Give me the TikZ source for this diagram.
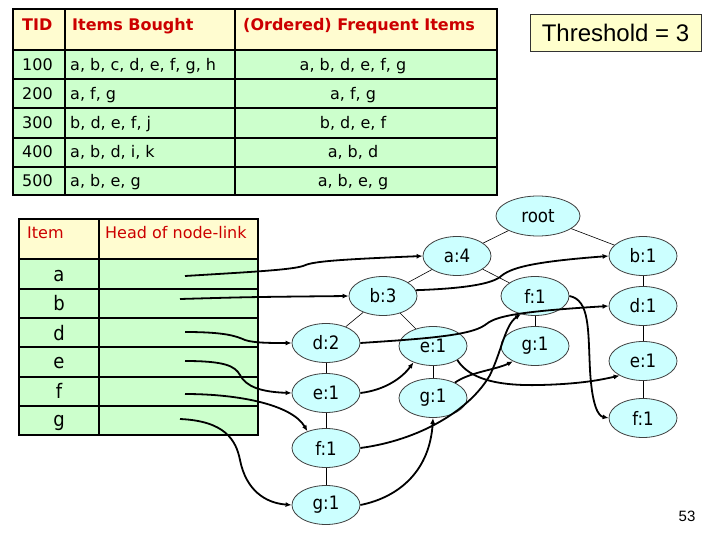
\documentclass[tikz,border=0pt]{standalone}
\usepackage{fontspec}
\setmainfont{DejaVu Sans}
\newfontfamily\arialfont{Liberation Sans}
\newfontfamily\condfont{DejaVu Sans Condensed}
\usetikzlibrary{arrows.meta,shapes.geometric}
\definecolor{hdrfill}{RGB}{255,252,208}
\definecolor{rowfill}{RGB}{204,255,204}
\definecolor{redtxt}{RGB}{204,0,0}
\definecolor{nodefill}{RGB}{204,255,255}
\definecolor{thrfill}{RGB}{255,255,204}
\begin{document}
\begin{tikzpicture}[x=1pt,y=-1pt,
  txt/.style={inner sep=0pt, anchor=base west, font=\fontsize{16}{19}\selectfont},
  ctxt/.style={inner sep=0pt, anchor=base, font=\fontsize{16}{19}\selectfont},
  itxt/.style={inner sep=0pt, anchor=base, font=\condfont\fontsize{20}{24}\selectfont},
  hbold/.style={txt, text=redtxt, font=\fontsize{16}{19}\selectfont\bfseries},
  hnorm/.style={txt, text=redtxt},
  tn/.style={ellipse, draw=black!75, line width=0.8pt, fill=nodefill, minimum width=68pt, minimum height=39pt, inner sep=0pt, font=\condfont\fontsize{18.5}{22}\selectfont},
  tedge/.style={line width=0.6pt},
  link/.style={line width=1.8pt, -{Latex[length=6pt,width=5pt]}},
  outer/.style={line width=2.5pt},
  inner/.style={line width=2pt}
]
\useasboundingbox (0,0) rectangle (720,540);
\fill[white] (0,0) rectangle (720,540);

% ---------- top table ----------
\fill[hdrfill] (13,9) rectangle (497,50);
\fill[rowfill] (13,50) rectangle (497,195);
\foreach \yy in {50,79,108,138,167} \draw[inner] (13,\yy) -- (497,\yy);
\foreach \xx in {65,235} \draw[inner] (\xx,9) -- (\xx,195);
\draw[outer] (13,9) rectangle (497,195);

\node[hbold] (tidh) at (22,31) {TID};
\node[hbold] (itemsh) at (72,31) {Items Bought};
\node[hbold] (freqh) at (243,31) {(Ordered) Frequent Items};

\node[txt] (t1) at (22,71) {100};
\node[txt] (t2) at (22,100) {200};
\node[txt] (t3) at (22,129) {300};
\node[txt] (t4) at (22,158) {400};
\node[txt] (t5) at (22,187) {500};
\node[txt] (i1) at (70,71) {a, b, c, d, e, f, g, h};
\node[txt] (i2) at (70,100) {a, f, g};
\node[txt] (i3) at (70,129) {b, d, e, f, j};
\node[txt] (i4) at (70,158) {a, b, d, i, k};
\node[txt] (i5) at (70,187) {a, b, e, g};
\node[ctxt] (f1) at (353,71) {a, b, d, e, f, g};
\node[ctxt] (f2) at (353,100) {a, f, g};
\node[ctxt] (f3) at (353,129) {b, d, e, f};
\node[ctxt] (f4) at (353,158) {a, b, d};
\node[ctxt] (f5) at (353,187) {a, b, e, g};

% ---------- threshold ----------
\node[draw=black!80, line width=0.8pt, fill=thrfill, minimum width=171pt, minimum height=37pt, inner sep=0pt,
      font=\arialfont\fontsize{24}{28}\selectfont] (thr) at (615.5,32.5) {Threshold = 3};

% ---------- header table ----------
\fill[hdrfill] (19,219) rectangle (258,259);
\fill[rowfill] (19,259) rectangle (258,435);
\foreach \yy in {259,289,318,347,377,406} \draw[inner] (19,\yy) -- (258,\yy);
\draw[inner] (99,219) -- (99,435);
\draw[outer] (19,219) rectangle (258,435);

\node[hnorm] (itemh) at (27,239) {Item};
\node[hnorm] (headh) at (105,239) {Head of node-link};
\node[itxt] (la) at (59,281) {a};
\node[itxt] (lb) at (59,310) {b};
\node[itxt] (ld) at (59,340) {d};
\node[itxt] (le) at (59,368) {e};
\node[itxt] (lf) at (59,398) {f};
\node[itxt] (lg) at (59,426) {g};

\coordinate (ha) at (185,276);
\coordinate (hb) at (180,299);
\coordinate (hd) at (185,332);
\coordinate (he) at (185,361);
\coordinate (hf) at (185,394);
\coordinate (hg) at (180,419);

% ---------- tree ----------
\node[tn, minimum width=84pt, minimum height=40pt] (root) at (538,216) {root};
\node[tn] (a4) at (457,256) {a:4};
\node[tn] (b1) at (643,256) {b:1};
\node[tn] (b3) at (383,296) {b:3};
\node[tn] (f1m) at (535,296) {f:1};
\node[tn] (d1) at (643,306) {d:1};
\node[tn] (d2) at (326,343) {d:2};
\node[tn] (e1m) at (433,346) {e:1};
\node[tn] (g1r) at (535,346) {g:1};
\node[tn] (e1r) at (643,361) {e:1};
\node[tn] (e1l) at (326,393) {e:1};
\node[tn] (g1m) at (433,398) {g:1};
\node[tn] (f1r) at (643,418) {f:1};
\node[tn] (f1l) at (326,448) {f:1};
\node[tn] (g1l) at (326,505) {g:1};

\draw[tedge] (root) -- (a4);
\draw[tedge] (root) -- (b1);
\draw[tedge] (a4) -- (b3);
\draw[tedge] (a4) -- (f1m);
\draw[tedge] (b3) -- (d2);
\draw[tedge] (b3) -- (e1m);
\draw[tedge] (f1m) -- (g1r);
\draw[tedge] (b1) -- (d1);
\draw[tedge] (d1) -- (e1r);
\draw[tedge] (e1r) -- (f1r);
\draw[tedge] (d2) -- (e1l);
\draw[tedge] (e1l) -- (f1l);
\draw[tedge] (f1l) -- (g1l);
\draw[tedge] (e1m) -- (g1m);

% ---------- node links ----------
\draw[link] (ha) .. controls (250,272) and (290,270) .. (303,266) .. controls (312,262) and (325,260) .. (a4.west);
\draw[link] (hb) .. controls (250,297) .. (b3.west);
\draw[link] (hd) .. controls (225,332) and (236,336) .. (245,340) .. controls (254,343) and (270,343) .. (d2.west);
\draw[link] (he) .. controls (225,361) and (235,366) .. (240,375) .. controls (246,387) and (262,392) .. (e1l.west);
\draw[link] (hf) .. controls (240,394) and (292,405) .. (f1l.138);
\draw[link] (hg) .. controls (225,421) and (236,440) .. (240,460) .. controls (246,490) and (265,503) .. (g1l.west);

\draw[link] (b3.10) .. controls (450,289) and (488,286) .. (500,277) .. controls (510,268) and (530,262) .. (b1.west);
\draw[link] (d2.east) .. controls (420,339) and (470,336) .. (485,325) .. controls (495,317) and (510,312) .. (d1.west);
\draw[link] (e1l.east) .. controls (385,390) and (402,378) .. (e1m.220);
\draw[link] (e1m.-30) .. controls (470,380) and (500,386) .. (540,385) .. controls (580,384) and (600,380) .. (e1r.212);
\draw[link] (f1m.east) .. controls (590,300) and (588,330) .. (590,370) .. controls (592,405) and (598,416) .. (f1r.west);
\draw[link] (g1m.35) .. controls (470,372) and (495,370) .. (g1r.215);
\draw[link] (f1l.east) .. controls (420,440) and (470,410) .. (490,375) .. controls (502,350) and (505,325) .. (f1m.232);
\draw[link] (g1l.east) .. controls (400,497) and (430,470) .. (g1m.south);

\node[font=\arialfont\fontsize{15}{18}\selectfont, inner sep=0pt] (pg) at (687,516) {53};
\end{tikzpicture}
\end{document}
